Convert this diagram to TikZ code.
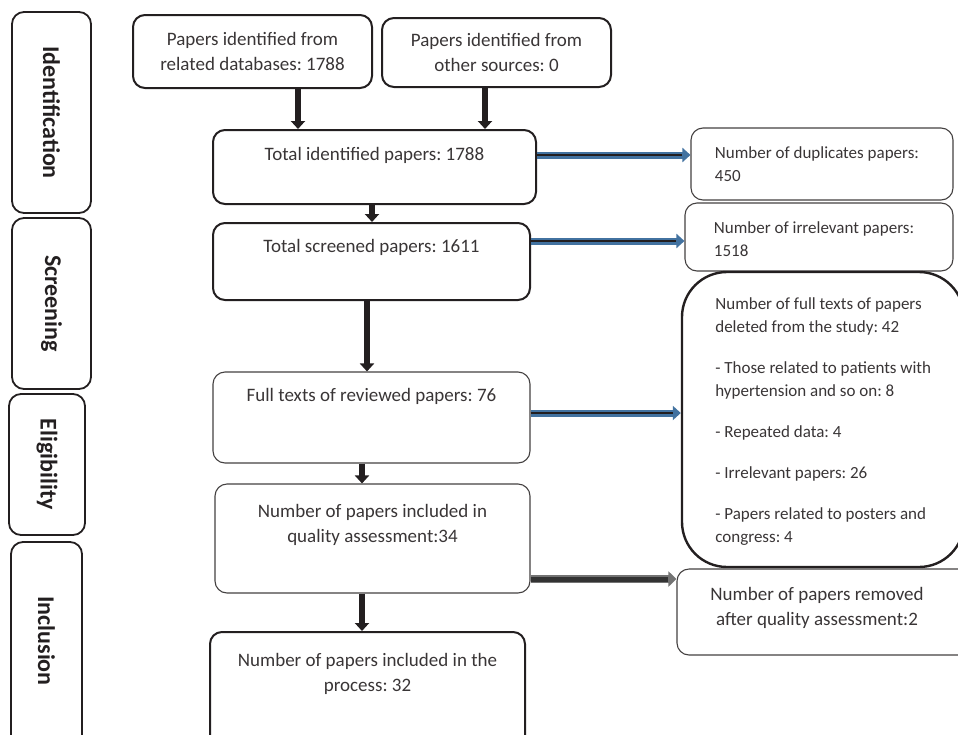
\documentclass[tikz,border=0pt]{standalone}
\usepackage{fontspec}
\setmainfont{Carlito}
\frenchspacing
\usetikzlibrary{arrows.meta,positioning}
\definecolor{ink}{RGB}{35,31,32}
\definecolor{steel}{RGB}{66,114,160}
\tikzset{
  phase/.style={draw=ink,line width=1.8pt,rounded corners=12pt},
  box/.style={draw=ink,line width=2pt,rounded corners=12pt},
  thinbox/.style={draw=ink!85,line width=1.1pt,rounded corners=12pt},
  phasetxt/.style={rotate=-90,font=\fontsize{24}{28}\selectfont\bfseries,text=ink},
  txt/.style={align=center,font=\fontsize{19}{25}\selectfont,text=ink!90},
  sidetxt/.style={anchor=west,align=left,font=\fontsize{17}{23}\selectfont,text=ink!90},
  down/.style={draw=ink,line width=5.5pt,-{Triangle[width=14pt,length=8pt]}},
  blueout/.style={draw=steel,line width=7pt,-{Triangle[width=14pt,length=8pt]}},
  bluecore/.style={draw=ink,line width=2.2pt,shorten >=8pt},
  grayout/.style={draw=black!55,line width=8pt,-{Triangle[width=15pt,length=8pt]}},
  graycore/.style={draw=black!80,line width=5pt,shorten >=8pt}
}
\begin{document}
\begin{tikzpicture}[x=1pt,y=-1pt]
\clip (0,0) rectangle (958,734);
% phases
\node[phase,minimum width=79pt,minimum height=201pt] (idf) at (51.5,112.5) {};
\node[phasetxt] at (idf) {Identification};
\node[phase,minimum width=79pt,minimum height=171pt] (scr) at (51.5,303.5) {};
\node[phasetxt] at (scr) {Screening};
\node[phase,minimum width=76pt,minimum height=141pt] (elg) at (47,464.5) {};
\node[phasetxt] at (elg) {Eligibility};
\node[phase,minimum width=71pt,minimum height=218pt] (inc) at (46.5,651) {};
\node[phasetxt] at (46.5,641) {Inclusion};

% main column
\node[box,minimum width=239pt,minimum height=73pt,txt] (db) at (252.5,51.5) {Papers identified from\\related databases: 1788};
\node[box,minimum width=229pt,minimum height=69pt,txt] (oth) at (496.5,52.5) {Papers identified from\\other sources: 0};
\node[box,minimum width=323pt,minimum height=74pt] (tot) at (374.5,167) {};
\node[txt] (tott) at (374.5,155) {Total identified papers: 1788};
\node[box,minimum width=317pt,minimum height=77pt] (scrn) at (371.5,261.5) {};
\node[txt] (scrnt) at (371.5,247) {Total screened papers: 1611};
\node[thinbox,minimum width=317pt,minimum height=91pt] (full) at (371.5,417.5) {};
\node[txt] (fullt) at (371.5,396) {Full texts of reviewed papers: 76};
\node[thinbox,minimum width=315pt,minimum height=109pt] (qual) at (372.5,538.5) {};
\node[txt] (qualt) at (372.5,525) {Number of papers included in\\quality assessment:34};
\node[box,minimum width=315pt,minimum height=116pt] (incl) at (367.5,690) {};
\node[txt] (inclt) at (367.5,674) {Number of papers included in the\\process: 32};

% excluded
\node[thinbox,minimum width=262pt,minimum height=72pt] (dup) at (822,164) {};
\node[sidetxt] (dupt) at ([xshift=21pt]dup.west) {Number of duplicates papers:\\450};
\node[thinbox,minimum width=268pt,minimum height=68pt] (irr) at (819,237) {};
\node[sidetxt] (irrt) at ([xshift=26pt,yshift=-2pt]irr.west) {Number of irrelevant papers:\\1518};
\node[draw=ink,line width=2.4pt,rounded corners=45pt,minimum width=282pt,minimum height=295pt] (del) at (823,419.5) {};
\node[sidetxt] (delt) at ([xshift=31pt,yshift=-2pt]del.west) {Number of full texts of papers\\deleted from the study: 42\\[18pt]
- Those related to patients with\\hypertension and so on: 8\\[18pt]
- Repeated data: 4\\[18pt]
- Irrelevant papers: 26\\[18pt]
- Papers related to posters and\\congress: 4};
\node[thinbox,minimum width=293pt,minimum height=86pt] (rem) at (823.5,612) {};
\node[txt] (remt) at (817,608) {Number of papers removed\\after quality assessment:2};

% down arrows
\draw[down] ([xshift=45.5pt]db.south) -- ([xshift=45.5pt]db.south |- tot.north);
\draw[down] ([xshift=-11.5pt]oth.south) -- ([xshift=-11.5pt]oth.south |- tot.north);
\draw[down] ([xshift=-2.5pt]tot.south) -- ([xshift=-2.5pt]tot.south |- scrn.north);
\draw[down] ([xshift=-4.5pt]scrn.south) -- ([xshift=-4.5pt]scrn.south |- full.north);
\draw[down] ([xshift=-9.5pt]full.south) -- ([xshift=-9.5pt]full.south |- qual.north);
\draw[down] ([xshift=-10.5pt]qual.south) -- ([xshift=-10.5pt]qual.south |- incl.north);

% side arrows
\draw[blueout] ([yshift=12pt]tot.east) -- ([yshift=12pt]tot.east -| dup.west);
\draw[bluecore] ([yshift=12pt]tot.east) -- ([yshift=12pt]tot.east -| dup.west);
\draw[blueout] ([yshift=20.5pt]scrn.east) -- ([yshift=20.5pt]scrn.east -| irr.west);
\draw[bluecore] ([yshift=20.5pt]scrn.east) -- ([yshift=20.5pt]scrn.east -| irr.west);
\draw[blueout] ([yshift=4.5pt]full.east) -- ([yshift=4.5pt]full.east -| del.west);
\draw[bluecore] ([yshift=4.5pt]full.east) -- ([yshift=4.5pt]full.east -| del.west);
\draw[grayout] ([yshift=-40.5pt]qual.east) -- ([yshift=-40.5pt]qual.east -| rem.west);
\draw[graycore] ([yshift=-40.5pt]qual.east) -- ([yshift=-40.5pt]qual.east -| rem.west);
\end{tikzpicture}
\end{document}
